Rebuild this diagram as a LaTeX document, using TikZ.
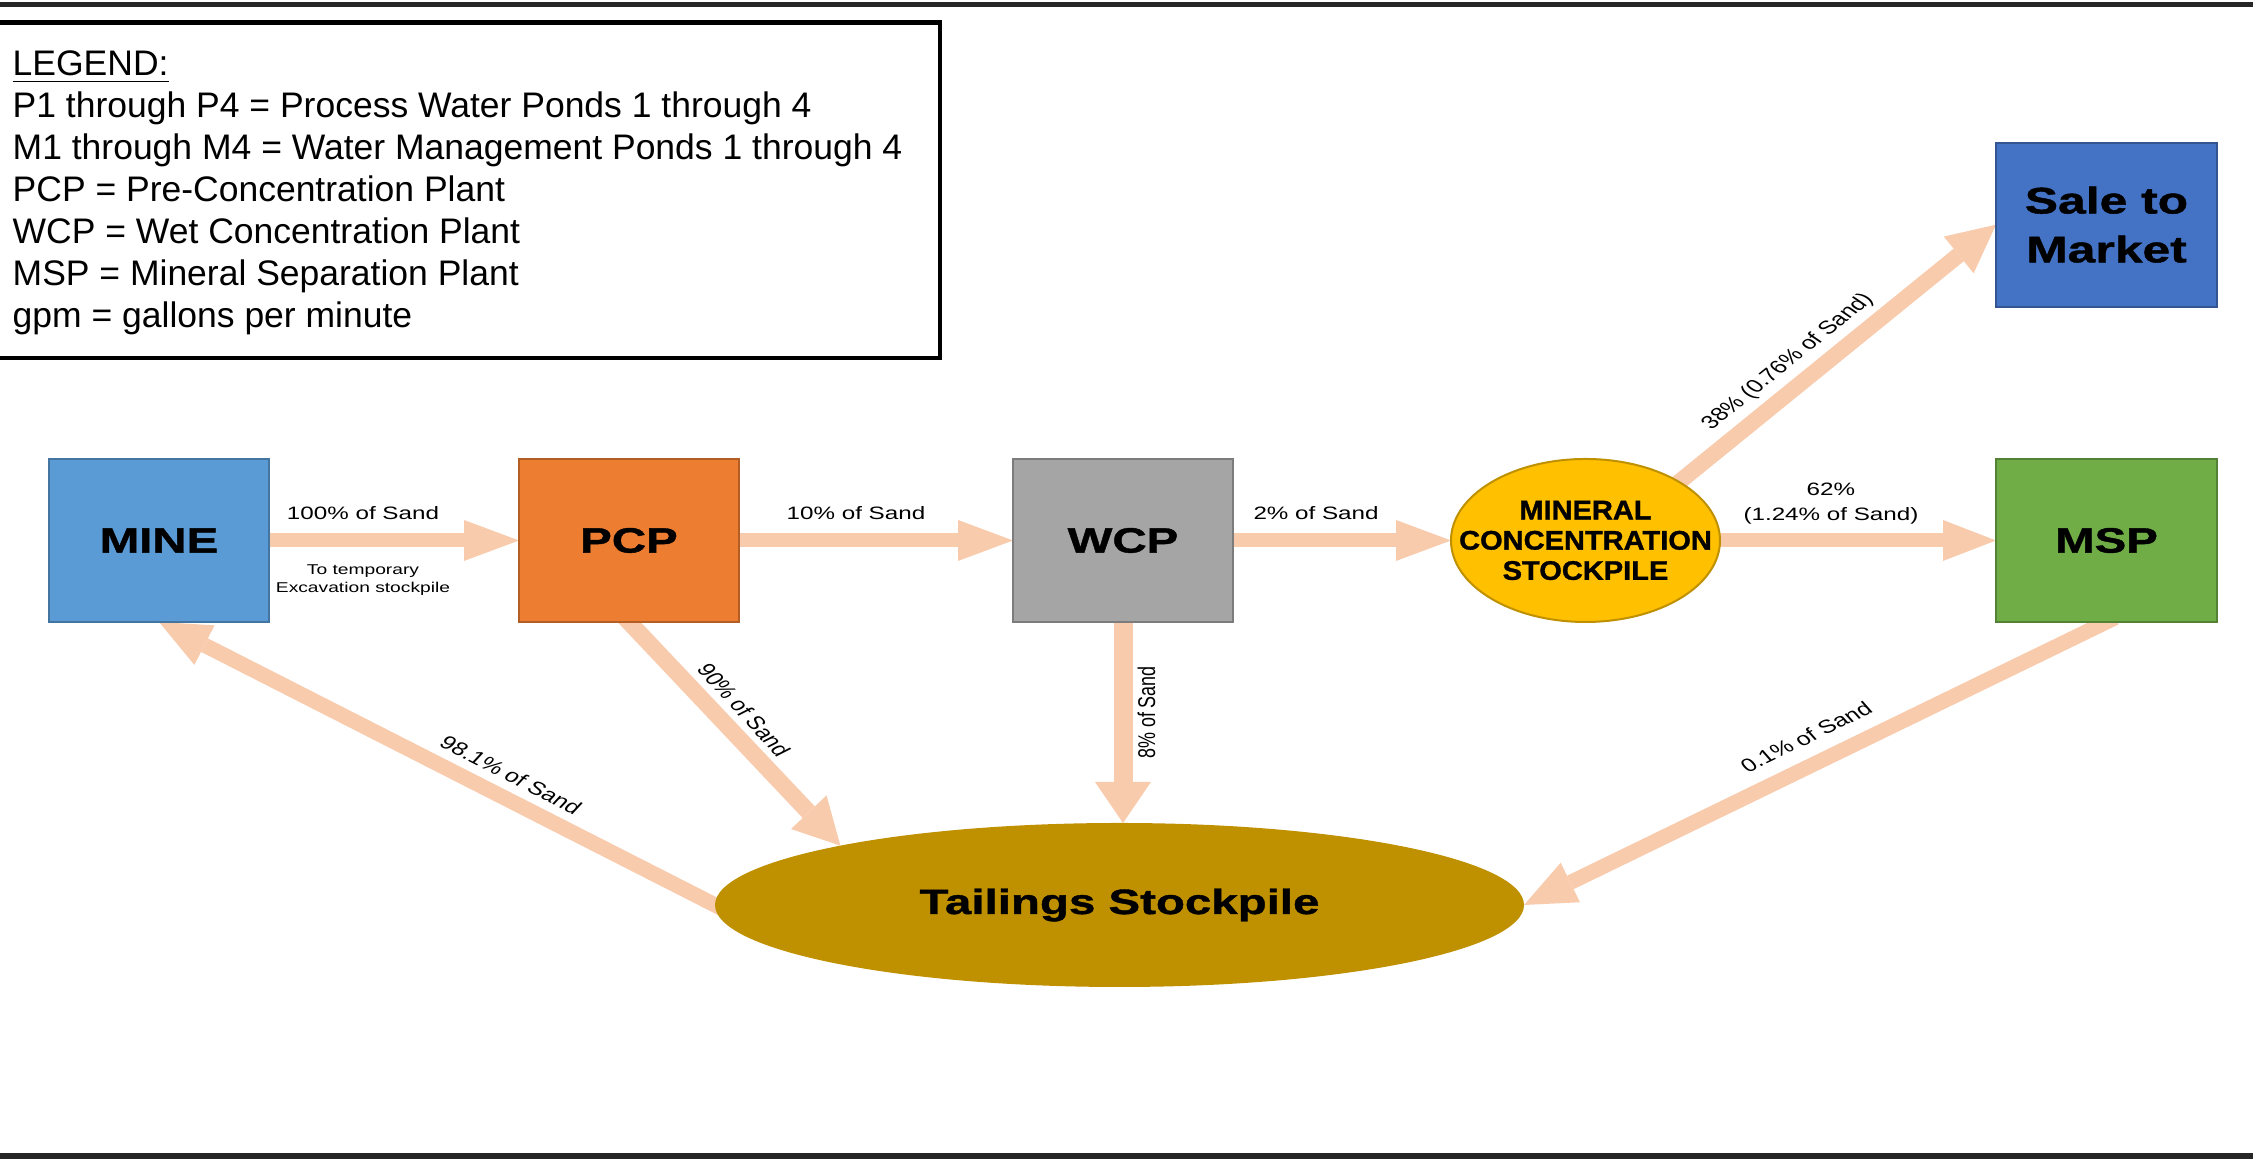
\documentclass[tikz,border=0pt]{standalone}
\usepackage{fontspec}
\setmainfont{Liberation Sans}
\newfontfamily\wideface[FakeStretch=1.35, BoldFeatures={FakeBold=1.2}]{Liberation Sans}
\newfontfamily\narrowface[FakeStretch=1.08, BoldFeatures={FakeBold=1.2}]{Liberation Sans}
\usetikzlibrary{arrows.meta,shapes.geometric}

\definecolor{mineblue}{HTML}{5B9BD5}
\definecolor{pcporange}{HTML}{ED7D31}
\definecolor{wcpgray}{HTML}{A5A5A5}
\definecolor{mcyellow}{HTML}{FFC000}
\definecolor{mspgreen}{HTML}{70AD47}
\definecolor{saleblue}{HTML}{4472C4}
\definecolor{tailgold}{HTML}{BF9000}
\definecolor{peach}{HTML}{F8CBAD}

\pgfdeclarelayer{flows}
\pgfsetlayers{flows,main}

\tikzset{
  plant/.style={rectangle, draw=#1!75!black, fill=#1, line width=0.02cm,
    minimum width=2.2cm, minimum height=1.63cm, inner sep=0pt, outer sep=0pt,
    font=\wideface\bfseries\fontsize{10}{12}\selectfont, align=center},
  pilenode/.style={ellipse, fill=#1, inner sep=0pt, outer sep=0pt,
    font=\wideface\bfseries\fontsize{10}{12}\selectfont},
  mctext/.style={font=\narrowface\bfseries\fontsize{7.65}{8.6}\selectfont,
    align=center, inner sep=0pt},
  flowarrow/.style n args={3}{draw=peach, line width=#1,
    -{Triangle[length=#2, width=#3, line width=0pt]}},
  lbl/.style={font=\fontsize{5.1}{7.1}\selectfont, inner sep=0pt,
    xscale=1.35, align=center},
  slantlbl/.style={lbl, font=\fontsize{5.3}{7}\selectfont},
  legendtxt/.style={font=\fontsize{10.1}{11.95}\selectfont, align=left,
    inner sep=0pt},
  pageline/.style={line width=0.055cm, black!85},
}

\begin{document}
\begin{tikzpicture}
  \useasboundingbox (0,0) rectangle (22.53,11.64);
  \draw[pageline] (-0.1,11.595) -- (22.63,11.595);
  \draw[pageline, line width=0.06cm] (-0.1,0.08) -- (22.63,0.08);

  % legend
  \node[draw, line width=0.045cm, minimum width=9.45cm, minimum height=3.353cm,
    inner sep=0pt] (legend) at (4.675,9.7365) {};
  \node[legendtxt, anchor=base west] (legtext) at (0.12,8.36) {\underline{LEGEND:}\\
    P1 through P4 = Process Water Ponds 1 through 4\\
    M1 through M4 = Water Management Ponds 1 through 4\\
    PCP = Pre-Concentration Plant\\
    WCP = Wet Concentration Plant\\
    MSP = Mineral Separation Plant\\
    gpm = gallons per minute};

  % plants and stockpiles
  \node[plant=mineblue] (mine) at (1.59,6.235) {MINE};
  \node[plant=pcporange] (pcp) at (6.29,6.235) {PCP};
  \node[plant=wcpgray] (wcp) at (11.23,6.235) {WCP};
  \node[pilenode=mcyellow, draw=mcyellow!75!black, line width=0.02cm,
    minimum width=2.69cm, minimum height=1.63cm,
    label={[mctext]center:MINERAL\\CONCENTRATION\\STOCKPILE}] (mc) at (15.855,6.235) {};
  \node[plant=mspgreen, minimum width=2.21cm] (msp) at (21.065,6.235) {MSP};
  \node[plant=saleblue, minimum width=2.21cm, minimum height=1.64cm,
    font=\wideface\bfseries\fontsize{10.5}{13.9}\selectfont] (sale) at (21.065,9.393) {Sale to\\Market};
  \node[pilenode=tailgold, minimum width=8.09cm, minimum height=1.64cm] (tail) at (11.195,2.59) {Tailings Stockpile};

  % sand flows
  \begin{pgfonlayer}{flows}
    \draw[flowarrow={0.14cm}{0.55cm}{0.41cm}] (mine) -- (pcp)
      node[lbl, pos=.376, above=1.35mm] {100\% of Sand}
      node[lbl, font=\fontsize{4.05}{5.1}\selectfont, pos=.376, below=1.75mm] {To temporary\\Excavation stockpile};
    \draw[flowarrow={0.14cm}{0.55cm}{0.41cm}] (pcp) -- (wcp)
      node[lbl, pos=.427, above=1.35mm] {10\% of Sand};
    \draw[flowarrow={0.14cm}{0.55cm}{0.41cm}] (wcp) -- (mc)
      node[lbl, pos=.381, above=1.35mm] {2\% of Sand};
    \draw[flowarrow={0.14cm}{0.53cm}{0.41cm}] (mc) -- (msp)
      node[lbl, pos=.402, above=0.95mm] {62\%\\(1.24\% of Sand)};
    \draw[flowarrow={0.161cm}{0.48cm}{0.473cm}, shorten <=-1mm] (mc.32.7) -- (sale.west);
    \draw[flowarrow={0.19cm}{0.41cm}{0.56cm}] (wcp.south) -- (wcp.south |- tail.north);
    \draw[flowarrow={0.168cm}{0.46cm}{0.49cm}, shorten <=-1mm] (pcp.south) -- (tail.168.6);
    \draw[flowarrow={0.152cm}{0.51cm}{0.444cm}, shorten <=-1mm] (tail.west) -- (mine.south);
    \draw[flowarrow={0.15cm}{0.515cm}{0.44cm}, shorten <=-1mm] (msp.south) -- (tail.east);
  \end{pgfonlayer}

  % slanted flow labels
  \node[slantlbl, rotate=47.3] (lbsale) at (17.88,8.02) {38\% (0.76\% of Sand)};
  \node[slantlbl, rotate=-55.5] (lbpcp) at (7.44,4.54) {90\% of Sand};
  \node[lbl, rotate=90] (lbwcp) at (11.465,4.515) {8\% of Sand};
  \node[slantlbl, rotate=-34.5] (lbmine) at (5.11,3.89) {98.1\% of Sand};
  \node[slantlbl, rotate=33.2] (lbmsp) at (18.06,4.27) {0.1\% of Sand};
\end{tikzpicture}
\end{document}
